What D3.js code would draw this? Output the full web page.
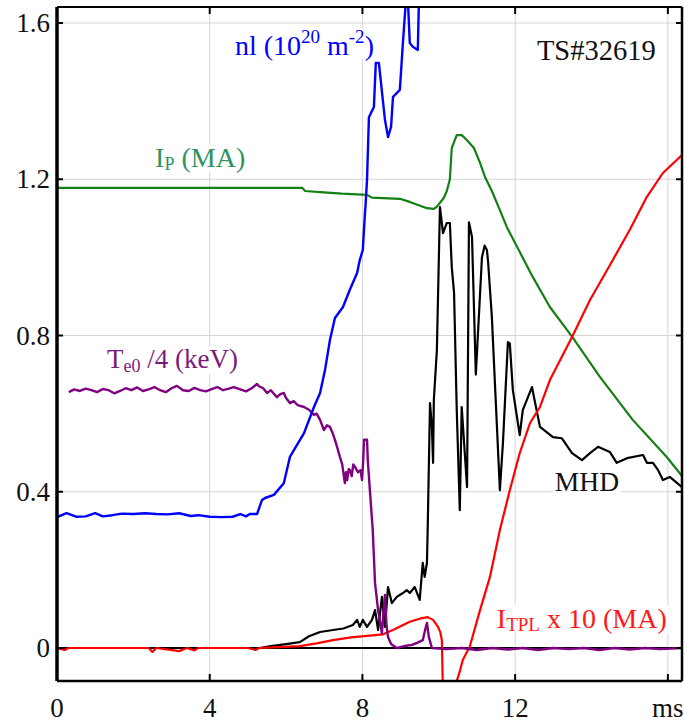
<!DOCTYPE html>
<html><head><meta charset="utf-8">
<script src="https://cdn.jsdelivr.net/npm/d3@7"></script>
<style>
html,body{margin:0;padding:0;background:#fff;}
svg{display:block;}
text{font-family:"Liberation Serif","Times New Roman",serif;}
</style></head>
<body>
<script>
// ---------- data (time in ms, value in plotted units) ----------
const xTicks = [0, 4, 8, 12, 16];
const xTickLabels = ["0", "4", "8", "12", "ms"];
const yTicks = [0, 0.4, 0.8, 1.2, 1.6];
const yTickLabels = ["0", "0.4", "0.8", "1.2", "1.6"];

const nlT = [0,0.25,0.5,0.75,1.0,1.2,1.45,1.7,2.0,2.3,2.6,2.9,3.2,3.5,3.7,4.0,4.3,4.6,4.8,4.95,5.05,5.24,5.37,5.45,5.68,5.94,6.1,6.47,6.73,6.89,7.02,7.15,7.28,7.49,7.67,7.86,7.93,8.01,8.06,8.09,8.12,8.17,8.3,8.35,8.43,8.59,8.67,8.75,8.8,8.98,9.06,9.14,9.19,9.24,9.32,9.45,9.48,9.53];
const nlV = [0.335,0.345,0.336,0.337,0.345,0.337,0.34,0.344,0.343,0.345,0.343,0.342,0.345,0.338,0.34,0.336,0.335,0.336,0.343,0.337,0.343,0.343,0.379,0.384,0.392,0.422,0.489,0.55,0.617,0.653,0.712,0.789,0.845,0.873,0.917,0.96,0.993,1.019,1.103,1.147,1.198,1.359,1.385,1.498,1.498,1.352,1.308,1.334,1.411,1.429,1.549,1.66,1.66,1.549,1.539,1.531,1.66,1.8];

const ipT = [0,6.42,6.5,6.89,7.46,8.12,8.25,8.98,9.24,9.69,9.87,9.95,10.13,10.21,10.29,10.34,10.47,10.6,10.74,10.92,11.08,11.21,11.39,11.6,11.78,12.05,12.46,12.91,13.49,14.22,15.08,15.97,16.37];
const ipV = [1.178,1.178,1.17,1.167,1.163,1.16,1.153,1.15,1.142,1.126,1.124,1.13,1.152,1.17,1.2,1.28,1.313,1.313,1.3,1.28,1.242,1.206,1.17,1.121,1.078,1.027,0.95,0.873,0.797,0.694,0.584,0.489,0.44];

const teT = [0.31,0.45,0.6,0.75,0.9,1.05,1.2,1.35,1.5,1.65,1.8,1.95,2.1,2.25,2.4,2.55,2.7,2.85,3.0,3.14,3.3,3.45,3.6,3.75,3.9,4.05,4.2,4.35,4.5,4.63,4.8,4.95,5.1,5.24,5.29,5.4,5.5,5.6,5.76,5.85,5.94,6.0,6.1,6.2,6.3,6.47,6.6,6.73,6.8,6.89,6.99,7.07,7.15,7.22,7.28,7.35,7.41,7.47,7.54,7.57,7.6,7.64,7.67,7.72,7.76,7.81,7.88,7.95,7.99,8.02,8.04,8.12,8.14,8.2,8.27,8.33,8.41,8.51,8.55,8.59,8.63,8.67,8.75,8.9,9.1,9.3,9.43,9.58,9.65,9.69,9.74,9.82,10.2,10.6,11.0,11.4,11.8,12.2,12.6,13.0,13.4,13.8,14.2,14.6,15.0,15.4,15.8,16.37];
const teV = [0.655,0.662,0.658,0.664,0.66,0.655,0.663,0.66,0.652,0.658,0.665,0.66,0.667,0.658,0.662,0.668,0.66,0.655,0.665,0.671,0.66,0.658,0.666,0.66,0.657,0.663,0.668,0.66,0.664,0.668,0.662,0.657,0.665,0.676,0.67,0.665,0.653,0.66,0.642,0.65,0.653,0.64,0.627,0.632,0.622,0.617,0.61,0.597,0.6,0.584,0.558,0.57,0.566,0.55,0.533,0.51,0.489,0.47,0.422,0.45,0.43,0.458,0.456,0.44,0.47,0.463,0.45,0.455,0.43,0.48,0.533,0.533,0.481,0.397,0.302,0.166,0.097,0.038,0.09,0.136,0.06,0.028,0.01,0.0,0.005,0.008,0.013,0.02,0.05,0.064,0.028,0.0,-0.003,0.0,-0.005,0.0,-0.004,0.0,-0.005,0.0,-0.003,0.0,-0.005,0.0,-0.004,0.0,-0.003,0.0];

const mhdT = [0,5.32,5.6,6.0,6.36,6.6,6.89,7.23,7.5,7.75,7.86,7.93,8.01,8.12,8.25,8.33,8.41,8.51,8.59,8.67,8.77,8.9,9.05,9.16,9.24,9.37,9.5,9.58,9.63,9.69,9.71,9.77,9.82,9.85,9.87,9.95,10.03,10.11,10.21,10.29,10.34,10.4,10.47,10.55,10.6,10.74,10.79,10.87,10.97,11.13,11.2,11.26,11.29,11.39,11.6,11.68,11.81,11.86,11.94,12.12,12.2,12.44,12.65,12.99,13.22,13.49,13.75,13.96,14.17,14.48,14.66,14.93,15.35,15.45,15.61,15.74,15.87,16.05,16.37];
const mhdV = [0,0,0.005,0.01,0.015,0.03,0.041,0.046,0.05,0.059,0.072,0.054,0.072,0.054,0.072,0.097,0.046,0.131,0.054,0.156,0.115,0.131,0.14,0.148,0.141,0.156,0.123,0.218,0.182,0.218,0.31,0.627,0.566,0.474,0.635,0.763,1.129,1.062,1.088,1.088,0.975,0.909,0.61,0.353,0.617,0.412,1.09,1.052,0.7,1.0,1.03,1.019,0.99,0.847,0.404,0.525,0.783,0.78,0.66,0.545,0.609,0.668,0.566,0.54,0.537,0.499,0.481,0.499,0.515,0.502,0.474,0.486,0.494,0.474,0.474,0.456,0.43,0.438,0.412];

const itplT = [0,0.2,0.3,2.4,2.5,2.6,3.2,3.4,3.6,3.7,5.0,5.2,5.3,5.8,6.36,6.8,7.23,7.7,8.12,8.54,8.8,9.24,9.5,9.71,9.85,9.98,10.04,10.08,10.11,10.29,10.42,10.55,10.63,10.81,11.08,11.34,11.6,11.86,12.12,12.39,12.65,12.91,13.49,13.96,14.48,15.0,15.45,15.87,16.37];
const itplV = [0,-0.005,0,0,-0.01,0,-0.008,0,-0.006,0,0,-0.005,0,0.002,0.005,0.012,0.02,0.027,0.031,0.035,0.046,0.067,0.075,0.079,0.072,0.054,0.04,0.02,-0.12,-0.12,-0.1,-0.06,-0.03,0.003,0.097,0.182,0.302,0.404,0.499,0.576,0.617,0.686,0.796,0.891,0.98,1.07,1.155,1.216,1.262];

// ---------- layout ----------
const W = 684, H = 724;
const L = 57, R = 682, T = 7, B = 681;
const x = d3.scaleLinear().domain([0, 16.37]).range([L, R]);
const y = d3.scaleLinear().domain([-0.0845, 1.641]).range([B, T]);

const svg = d3.select("body").append("svg").attr("width", W).attr("height", H);

// grid
const grid = svg.append("g").attr("stroke", "#d4d4d4").attr("stroke-width", 1);
grid.selectAll("line.v").data(xTicks.filter(d => d > 0)).join("line")
  .attr("x1", d => x(d)).attr("x2", d => x(d)).attr("y1", T).attr("y2", B);
grid.selectAll("line.h").data(yTicks.filter(d => d > 0)).join("line")
  .attr("x1", L).attr("x2", R).attr("y1", d => y(d)).attr("y2", d => y(d));

// zero line
svg.append("line").attr("x1", L).attr("x2", R).attr("y1", y(0)).attr("y2", y(0))
  .attr("stroke", "#000").attr("stroke-width", 2);

// labels (white background) drawn before curves
const ann = svg.append("g");
function label(t, v, color, parts, size) {
  const g = ann.append("g");
  const tx = g.append("text").attr("x", x(t)).attr("y", y(v)).attr("fill", color)
    .attr("font-size", size);
  let shift = 0;
  parts.forEach(p => {
    const ts = tx.append("tspan").text(p.s);
    const target = p.dy || 0;
    ts.attr("dy", target - shift);
    shift = target;
    if (p.size) ts.attr("font-size", p.size);
  });
  const bb = tx.node().getBBox();
  g.insert("rect", "text").attr("x", bb.x - 2).attr("y", bb.y + 2).attr("width", bb.width + 4)
    .attr("height", bb.height - 4).attr("fill", "#fff");
}

// clip
svg.append("clipPath").attr("id", "clip").append("rect")
  .attr("x", L).attr("y", T).attr("width", R - L).attr("height", B - T);
const plot = svg.append("g").attr("clip-path", "url(#clip)");

const line = d3.line().x(d => x(d[0])).y(d => y(d[1]));
function series(ts, vs, color, w) {
  plot.append("path").datum(ts.map((t, i) => [t, vs[i]]))
    .attr("d", line).attr("fill", "none").attr("stroke", color)
    .attr("stroke-width", w).attr("stroke-linejoin", "round");
}

label(4.66, 1.518, "#0000ff", [{s:"nl (10"},{s:"20", dy:-12, size:19},{s:" m", dy:0},{s:"-2", dy:-12, size:19},{s:")", dy:0}], 28);
label(12.57, 1.505, "#111", [{s:"TS#32619"}], 28.5);
label(2.57, 1.231, "#2e9460", [{s:"I"},{s:"P", dy:3, size:18},{s:" (MA)", dy:0}], 28);
label(1.31, 0.717, "#7a1a7a", [{s:"T"},{s:"e0", dy:4, size:18},{s:" /4 (keV)", dy:0}], 27);
label(13.04, 0.402, "#111", [{s:"MHD"}], 27.5);
label(11.52, 0.051, "#ff1a1a", [{s:"I"},{s:"TPL", dy:3, size:19},{s:" x 10 (MA)", dy:0}], 28);

series(ipT, ipV, "#128012", 2.2);
series(mhdT, mhdV, "#000000", 2.2);
series(itplT, itplV, "#ff0000", 2.2);
series(teT, teV, "#800080", 2.4);
series(nlT, nlV, "#0000ff", 2.4);

// frame
svg.append("line").attr("x1", L).attr("x2", R).attr("y1", T).attr("y2", T).attr("stroke", "#000").attr("stroke-width", 2);
svg.append("line").attr("x1", L).attr("x2", R).attr("y1", B).attr("y2", B).attr("stroke", "#000").attr("stroke-width", 2.5);
svg.append("line").attr("x1", R).attr("x2", R).attr("y1", T).attr("y2", B).attr("stroke", "#000").attr("stroke-width", 2.5);
svg.append("line").attr("x1", L).attr("x2", L).attr("y1", T).attr("y2", B).attr("stroke", "#000").attr("stroke-width", 3.5);

// ticks (inward)
const tk = svg.append("g").attr("stroke", "#000").attr("stroke-width", 2);
xTicks.filter(d => d > 0).forEach(d => {
  tk.append("line").attr("x1", x(d)).attr("x2", x(d)).attr("y1", B).attr("y2", B - 7);
  tk.append("line").attr("x1", x(d)).attr("x2", x(d)).attr("y1", T).attr("y2", T + 7);
});
yTicks.forEach(d => {
  tk.append("line").attr("x1", L).attr("x2", L + 6).attr("y1", y(d)).attr("y2", y(d));
  tk.append("line").attr("x1", R).attr("x2", R - 6).attr("y1", y(d)).attr("y2", y(d));
});

// tick labels
svg.append("g").selectAll("text").data(xTicks).join("text")
  .attr("x", d => x(d)).attr("y", 717).attr("text-anchor", "middle")
  .attr("font-size", 27).attr("fill", "#111").text((d, i) => xTickLabels[i]);
svg.append("g").selectAll("text").data(yTicks).join("text")
  .attr("x", 50).attr("y", d => y(d) + 9).attr("text-anchor", "end")
  .attr("font-size", 27).attr("fill", "#111").text((d, i) => yTickLabels[i]);
</script>
</body></html>
